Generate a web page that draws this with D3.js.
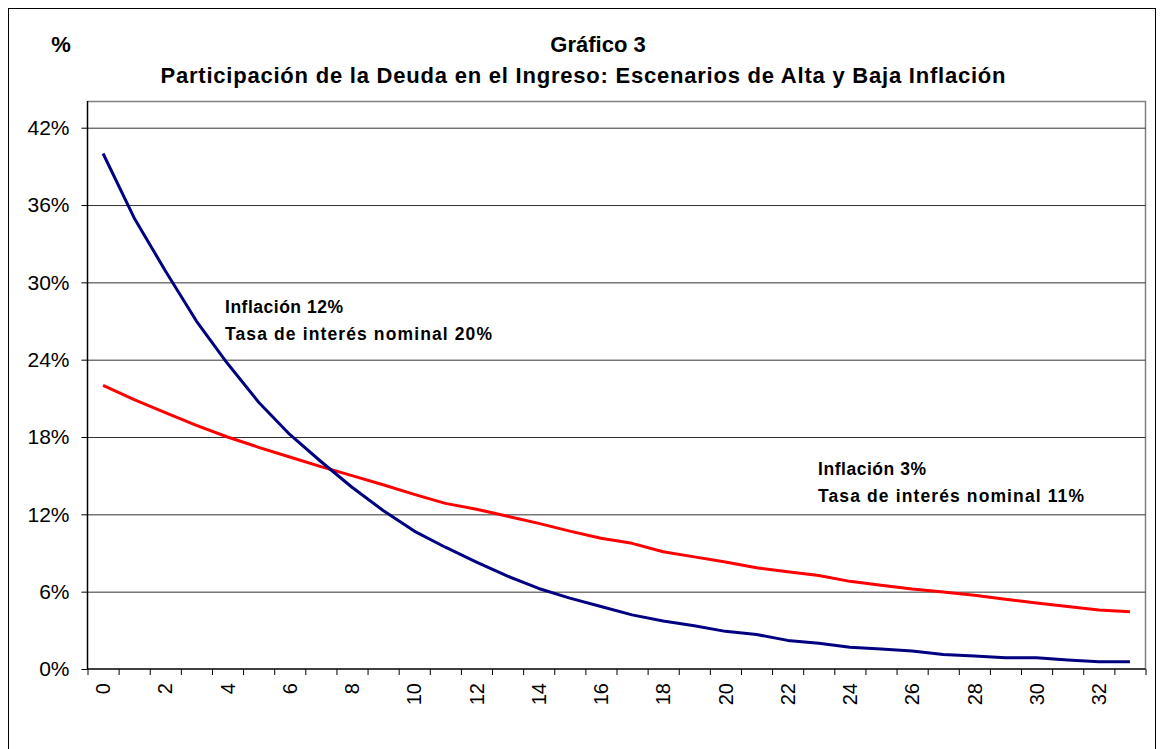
<!DOCTYPE html>
<html>
<head>
<meta charset="utf-8">
<script src="https://cdn.jsdelivr.net/npm/d3@7"></script>
<style>
  body { margin: 0; background: #fff; }
  text { font-family: Arial, "Liberation Sans", sans-serif; }
</style>
</head>
<body>
<div id="chart"></div>
<script>
// years since start (categories)
var periods = [0, 1, 2, 3, 4, 5, 6, 7, 8, 9, 10, 11, 12, 13, 14, 15, 16,
               17, 18, 19, 20, 21, 22, 23, 24, 25, 26, 27, 28, 29, 30, 31, 32, 33];

// high inflation scenario (12%, nominal rate 20%)
var altaInflacion = [40.0, 35.0, 30.9, 27.0, 23.7, 20.7, 18.2, 16.1, 14.1, 12.3,
                     10.7, 9.45, 8.3, 7.2, 6.25, 5.5, 4.85, 4.2, 3.72, 3.36,
                     2.92, 2.68, 2.22, 1.99, 1.68, 1.55, 1.4, 1.12, 1.0, 0.88,
                     0.88, 0.7, 0.57, 0.57];

// low inflation scenario (3%, nominal rate 11%)
var bajaInflacion = [22.0, 20.9, 19.9, 18.9, 18.0, 17.2, 16.45, 15.7, 15.0, 14.3,
                     13.55, 12.85, 12.4, 11.85, 11.3, 10.7, 10.15, 9.75, 9.1, 8.7,
                     8.3, 7.85, 7.55, 7.25, 6.8, 6.5, 6.2, 5.98, 5.72, 5.42,
                     5.12, 4.85, 4.58, 4.44];

var yTicks = [0, 6, 12, 18, 24, 30, 36, 42];
var xLabels = [0, 2, 4, 6, 8, 10, 12, 14, 16, 18, 20, 22, 24, 26, 28, 30, 32];

var W = 1161, H = 749;
var plotL = 87.5, plotR = 1145.5, plotT = 101, plotB = 669;

var svg = d3.select("#chart").append("svg")
    .attr("width", W)
    .attr("height", H);

// outer frame
svg.append("rect")
    .attr("x", 8.5).attr("y", 8.5)
    .attr("width", 1147).attr("height", 770)
    .attr("fill", "none")
    .attr("stroke", "#000");

var x = d3.scaleBand()
    .domain(periods)
    .range([plotL, plotR]);

var xEdge = d3.scaleLinear()
    .domain([0, periods.length])
    .range([plotL, plotR]);

var y = d3.scaleLinear()
    .domain([0, 42])
    .range([plotB, 127.7]);

// plot box (grey top and right)
svg.append("path")
    .attr("d", "M" + plotL + "," + (plotT + 0.5) + "H" + plotR + "V" + plotB)
    .attr("fill", "none")
    .attr("stroke", "#808080")
    .attr("stroke-width", 1.5);

// gridlines
svg.append("g")
    .attr("class", "grid")
    .attr("transform", "translate(" + plotL + ",0)")
    .call(d3.axisLeft(y).tickValues(yTicks.slice(1)).tickSize(-(plotR - plotL)).tickFormat(""))
    .call(function(g) { g.select(".domain").remove(); })
    .selectAll("line")
    .attr("stroke", "#333");

// y axis
var yAxis = svg.append("g")
    .attr("transform", "translate(" + plotL + ",0)")
    .call(d3.axisLeft(y).tickValues(yTicks).tickSize(6).tickPadding(12)
          .tickFormat(function(d) { return d + "%"; }));
yAxis.select(".domain").attr("d", "M0," + plotT + "V" + plotB).attr("stroke", "#000").attr("stroke-width", 1.5);
yAxis.selectAll(".tick line").attr("stroke", "#000");
yAxis.selectAll("text")
    .attr("font-size", 21)
    .attr("fill", "#000")
    .attr("font-family", "Arial, 'Liberation Sans', sans-serif");

// x axis tick marks between categories
var xTicks = svg.append("g")
    .attr("transform", "translate(0," + plotB + ")")
    .call(d3.axisBottom(xEdge).tickValues(d3.range(periods.length + 1)).tickSize(6).tickFormat(""));
xTicks.select(".domain").attr("d", "M" + plotL + ",0H" + plotR).attr("stroke", "#000").attr("stroke-width", 1.5);
xTicks.selectAll(".tick line").attr("stroke", "#000");

// x axis labels
var xAxis = svg.append("g")
    .attr("transform", "translate(0," + plotB + ")")
    .call(d3.axisBottom(x).tickValues(xLabels).tickSize(0).tickPadding(0));
xAxis.select(".domain").remove();
xAxis.selectAll("text")
    .attr("font-size", 20)
    .attr("fill", "#000")
    .attr("font-family", "Arial, 'Liberation Sans', sans-serif")
    .attr("text-anchor", "end")
    .attr("transform", "rotate(-90)")
    .attr("x", -14)
    .attr("y", 0)
    .attr("dy", "0.36em");

// lines
var line = d3.line()
    .x(function(d, i) { return x(periods[i]) + x.bandwidth() / 2; })
    .y(function(d) { return y(d); });

svg.append("path")
    .datum(bajaInflacion)
    .attr("d", line)
    .attr("fill", "none")
    .attr("stroke", "#ff0000")
    .attr("stroke-width", 3)
    .attr("stroke-linejoin", "round");

svg.append("path")
    .datum(altaInflacion)
    .attr("d", line)
    .attr("fill", "none")
    .attr("stroke", "#000080")
    .attr("stroke-width", 3)
    .attr("stroke-linejoin", "round");

// titles
svg.append("text")
    .attr("x", 61).attr("y", 52)
    .attr("text-anchor", "middle")
    .attr("font-size", 22).attr("font-weight", "bold")
    .text("%");

svg.append("text")
    .attr("x", 598).attr("y", 52)
    .attr("text-anchor", "middle")
    .attr("font-size", 22).attr("font-weight", "bold")
    .text("Gráfico 3");

svg.append("text")
    .attr("x", 583).attr("y", 83)
    .attr("text-anchor", "middle")
    .attr("font-size", 22).attr("font-weight", "bold")
    .attr("textLength", 845).attr("lengthAdjust", "spacing")
    .text("Participación de la Deuda en el Ingreso: Escenarios de Alta y Baja Inflación");

// annotations
var notes = [
  { x: 225, y: 313, lines: ["Inflación 12%", "Tasa de interés nominal 20%"], widths: [118, 267] },
  { x: 818, y: 475, lines: ["Inflación 3%", "Tasa de interés nominal 11%"], widths: [108, 266] }
];

notes.forEach(function(n) {
  n.lines.forEach(function(t, i) {
    svg.append("text")
        .attr("x", n.x).attr("y", n.y + i * 27)
        .attr("font-size", 17.5).attr("font-weight", "bold")
        .attr("textLength", n.widths[i]).attr("lengthAdjust", "spacing")
        .text(t);
  });
});
</script>
</body>
</html>
